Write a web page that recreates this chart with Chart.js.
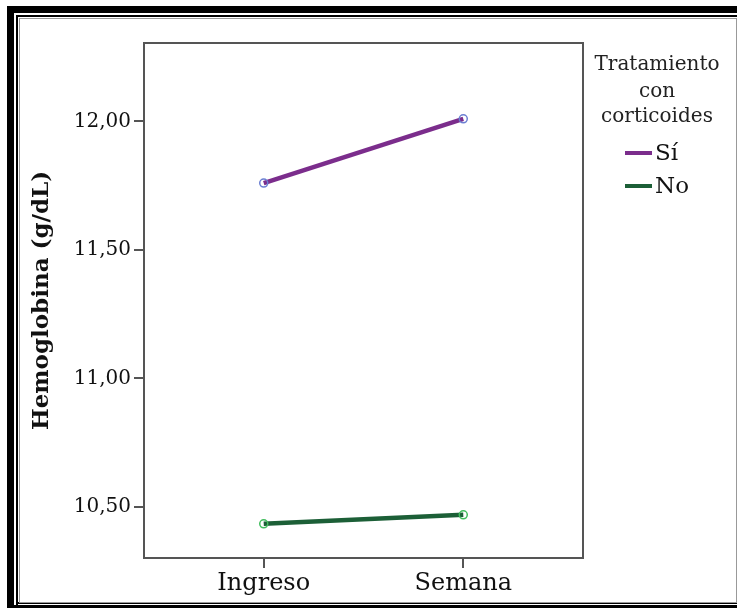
<!DOCTYPE html>
<html>
<head>
<meta charset="utf-8">
<script src="https://cdn.jsdelivr.net/npm/chart.js@4.4.0/dist/chart.umd.min.js"></script>
<style>
  html, body { margin: 0; padding: 0; background: #fff; }
  #wrap { position: relative; width: 737px; height: 608px; overflow: hidden; background: #fff; }
  canvas { position: absolute; left: 0; top: 0; }
  .f { position: absolute; }
</style>
</head>
<body>
<div id="wrap">
  <canvas id="c" width="737" height="608"></canvas>
  <!-- frame -->
  <div class="f" style="left:7px;top:6px;width:740px;height:7px;background:#000"></div>
  <div class="f" style="left:7px;top:6px;width:7px;height:610px;background:#000"></div>
  <div class="f" style="left:7px;top:605px;width:740px;height:4px;background:#000"></div>
  <div class="f" style="left:16px;top:15px;width:740px;height:2px;background:#000"></div>
  <div class="f" style="left:16px;top:15px;width:2px;height:590px;background:#000"></div>
  <div class="f" style="left:16px;top:602px;width:740px;height:2px;background:#000"></div>
  <div class="f" style="left:19px;top:18px;width:716px;height:583px;border:1px solid #999;box-sizing:content-box"></div>
</div>
<script>
const categories = ["Ingreso", "Semana"];
const seriesNames = ["Sí", "No"];
const siValues = [11.76, 12.01];
const noValues = [10.434, 10.469];
const yTicks = [10.5, 11.0, 11.5, 12.0];
const legendTitle = ["Tratamiento", "con", "corticoides"];
const yTitle = "Hemoglobina (g/dL)";

const lineColors = ["#7b2d8c", "#1c5f37"];
const pointColors = ["#6b7fd2", "#42bd5e"];

const FONT = "'DejaVu Serif', serif";

const frameLegend = {
  id: 'frameLegend',
  afterDraw(chart) {
    const ctx = chart.ctx;
    const a = chart.chartArea;
    ctx.save();
    ctx.strokeStyle = '#555';
    ctx.lineWidth = 2;
    ctx.strokeRect(a.left, a.top, a.right - a.left, a.bottom - a.top);
    // legend
    ctx.fillStyle = '#222';
    ctx.font = "20px " + FONT;
    ctx.textAlign = 'center';
    ctx.textBaseline = 'middle';
    const ty = [65, 92, 117];
    legendTitle.forEach((t, i) => ctx.fillText(t, 657, ty[i]));
    const iy = [153, 186];
    chart.data.datasets.forEach((ds, i) => {
      ctx.strokeStyle = ds.borderColor;
      ctx.lineWidth = 4;
      ctx.beginPath();
      ctx.moveTo(625, iy[i]);
      ctx.lineTo(652, iy[i]);
      ctx.stroke();
      ctx.fillStyle = '#111';
      ctx.font = "23px " + FONT;
      ctx.textAlign = 'left';
      ctx.fillText(ds.label, 655, iy[i] + 1);
    });
    ctx.restore();
  }
};

function toPts(vals) { return vals.map((v, i) => ({x: i, y: v})); }

new Chart(document.getElementById('c'), {
  type: 'line',
  data: {
    datasets: [
      { label: seriesNames[0], data: toPts(siValues), borderColor: lineColors[0], borderWidth: 4.5,
        pointRadius: 4, pointBorderWidth: 1.5, pointBorderColor: pointColors[0], pointBackgroundColor: 'rgba(255,255,255,0)' },
      { label: seriesNames[1], data: toPts(noValues), borderColor: lineColors[1], borderWidth: 4.5,
        pointRadius: 4, pointBorderWidth: 1.5, pointBorderColor: pointColors[1], pointBackgroundColor: 'rgba(255,255,255,0)' }
    ]
  },
  options: {
    responsive: false,
    animation: false,
    devicePixelRatio: 1,
    layout: { padding: { left: 0, top: 43, right: 154, bottom: 0 } },
    plugins: { legend: { display: false }, tooltip: { enabled: false } },
    scales: {
      x: {
        type: 'linear', min: -0.6, max: 1.6,
        afterBuildTicks: s => { s.ticks = categories.map((c, i) => ({value: i})); },
        afterFit: s => { s.height = 50; },
        grid: { drawOnChartArea: false, drawTicks: true, tickLength: 10, color: '#555', lineWidth: 2 },
        border: { display: false },
        ticks: { color: '#111', font: { family: FONT, size: 24 }, padding: 1,
          callback: v => categories[v] ?? '' }
      },
      y: {
        type: 'linear', min: 10.301, max: 12.305,
        afterBuildTicks: s => { s.ticks = yTicks.map(v => ({value: v})); },
        afterFit: s => { s.width = 144; },
        grid: { drawOnChartArea: false, drawTicks: true, tickLength: 10, color: '#555', lineWidth: 2 },
        border: { display: false },
        ticks: { color: '#111', font: { family: FONT, size: 20 }, padding: 3,
          callback: v => v.toFixed(2).replace('.', ',') },
        title: { display: true, text: yTitle, color: '#111',
          font: { family: FONT, size: 23, weight: 'bold' }, padding: { top: 28, bottom: 0 } }
      }
    }
  },
  plugins: [frameLegend]
});
</script>
</body>
</html>
